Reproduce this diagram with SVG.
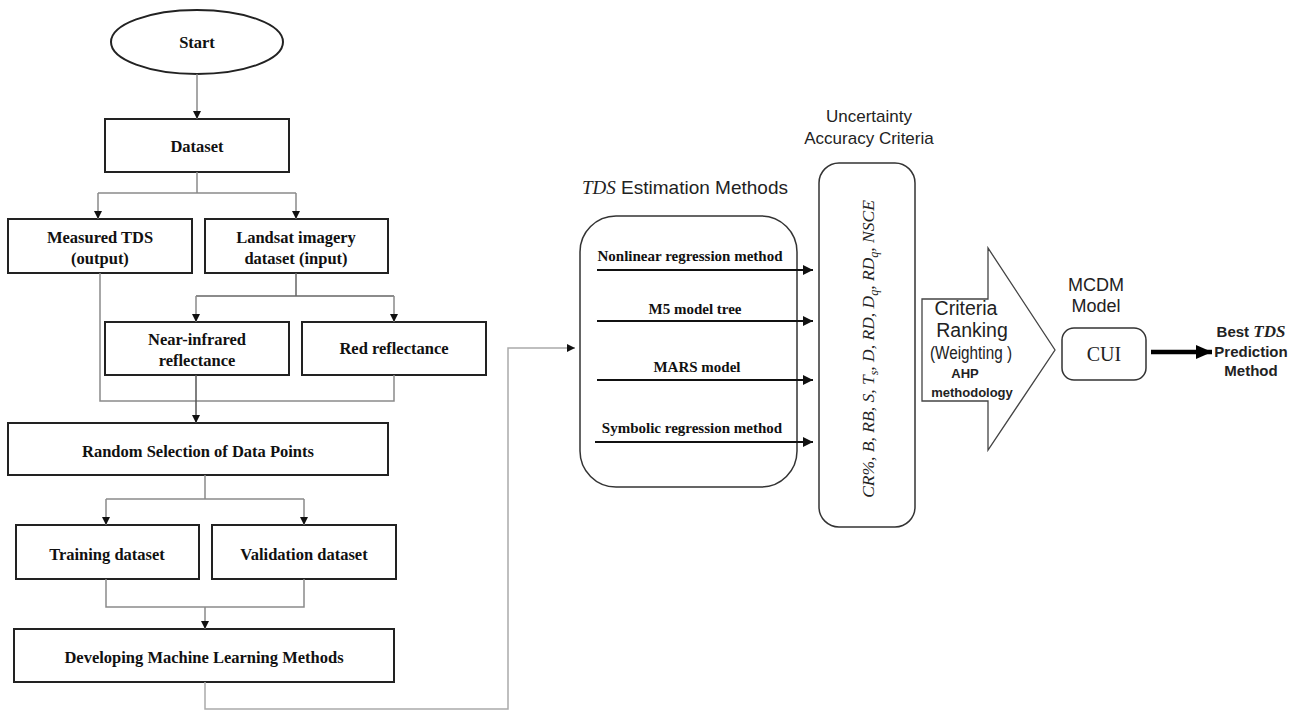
<svg xmlns="http://www.w3.org/2000/svg" width="1299" height="711" viewBox="0 0 1299 711">
<style>
.box{fill:#fff;stroke:#222;stroke-width:2}
.rbox{fill:#fff;stroke:#333;stroke-width:1.5}
.con{fill:none;stroke:#8a8a8a;stroke-width:1.5}
.tb{font-family:"Liberation Serif",serif;font-weight:bold;font-size:16.5px;fill:#111;text-anchor:middle}
.tm{font-family:"Liberation Serif",serif;font-weight:bold;font-size:15px;fill:#111;text-anchor:middle}
.ts{font-family:"Liberation Sans",sans-serif;font-size:18px;fill:#222;text-anchor:middle}
.it{font-family:"Liberation Serif",serif;font-style:italic}
.thick{stroke:#111;stroke-width:2.2;fill:none}
</style>
<defs>
<marker id="ah" viewBox="0 0 10 10" refX="10" refY="5" markerWidth="8" markerHeight="8" markerUnits="userSpaceOnUse" orient="auto">
<path d="M0,0 L10,5 L0,10 z" fill="#111"/>
</marker>
<marker id="ahb" viewBox="0 0 10 10" refX="10" refY="5" markerWidth="10" markerHeight="10" markerUnits="userSpaceOnUse" orient="auto">
<path d="M0,0 L10,5 L0,10 z" fill="#111"/>
</marker>
<marker id="ahc" viewBox="0 0 10 10" refX="10" refY="5" markerWidth="16" markerHeight="14" markerUnits="userSpaceOnUse" orient="auto" preserveAspectRatio="none">
<path d="M0,0 L10,5 L0,10 z" fill="#000"/>
</marker>
</defs>

<g id="start">
<ellipse cx="197" cy="42" rx="86" ry="32" class="box"/>
<text x="197" y="48" class="tb">Start</text>
</g>
<g id="dataset">
<rect x="105" y="119" width="184" height="53" class="box"/>
<text x="197" y="152" class="tb">Dataset</text>
</g>
<g id="measured">
<rect x="8" y="219" width="184" height="54" class="box"/>
<text x="100" y="243" class="tb">Measured TDS</text>
<text x="100" y="264" class="tb">(output)</text>
</g>
<g id="landsat">
<rect x="205" y="219" width="183" height="54" class="box"/>
<text x="296" y="243" class="tb">Landsat imagery</text>
<text x="296" y="264" class="tb">dataset (input)</text>
</g>
<g id="nir">
<rect x="105" y="322" width="184" height="53" class="box"/>
<text x="197" y="345" class="tb">Near-infrared</text>
<text x="197" y="366" class="tb">reflectance</text>
</g>
<g id="red">
<rect x="302" y="322" width="184" height="53" class="box"/>
<text x="394" y="354" class="tb">Red reflectance</text>
</g>
<g id="random">
<rect x="8" y="423" width="380" height="52" class="box"/>
<text x="198" y="457" class="tb">Random Selection of Data Points</text>
</g>
<g id="training">
<rect x="16" y="525" width="183" height="54" class="box"/>
<text x="107" y="560" class="tb">Training dataset</text>
</g>
<g id="validation">
<rect x="212" y="525" width="184" height="54" class="box"/>
<text x="304" y="560" class="tb">Validation dataset</text>
</g>
<g id="developing">
<rect x="14" y="629" width="380" height="53" class="box"/>
<text x="204" y="663" class="tb">Developing Machine Learning Methods</text>
</g>

<g id="estimation">
<text x="685" y="194" class="ts" style="font-size:19px"><tspan class="it">TDS</tspan> Estimation Methods</text>
<rect x="580" y="216" width="217" height="271" rx="36" class="rbox"/>
<text x="690" y="261" class="tm">Nonlinear regression method</text>
<text x="695" y="314" class="tm">M5 model tree</text>
<text x="697" y="372" class="tm">MARS model</text>
<text x="692" y="433" class="tm">Symbolic regression method</text>
</g>

<g id="uncertainty">
<text x="869" y="122" class="ts" style="font-size:17px">Uncertainty</text>
<text x="869" y="144" class="ts" style="font-size:17px">Accuracy Criteria</text>
<rect x="819" y="163" width="96" height="364" rx="20" class="rbox"/>
<text transform="translate(874,349) rotate(-90)" text-anchor="middle" class="it" style="font-size:17.5px" fill="#222">CR%, B, RB, S, T<tspan font-size="12" dy="4">s</tspan><tspan dy="-4">, D, RD, D</tspan><tspan font-size="12" dy="4">q</tspan><tspan dy="-4">, RD</tspan><tspan font-size="12" dy="4">q</tspan><tspan dy="-4">, NSCE</tspan></text>
</g>

<g id="ranking">
<path d="M922,299 H988 V248 L1055,350 L988,450 V401 H922 Z" fill="#fff" stroke="#444" stroke-width="1.3"/>
<text x="966" y="315" class="ts" style="font-size:19.5px">Criteria</text>
<text x="972" y="337" class="ts" style="font-size:19.5px">Ranking</text>
<text x="971" y="359" class="ts" style="font-size:18px" textLength="82" lengthAdjust="spacingAndGlyphs">(Weighting )</text>
<text x="965" y="378" class="ts" style="font-size:13px;font-weight:bold">AHP</text>
<text x="972" y="397" class="ts" style="font-size:13px;font-weight:bold">methodology</text>
</g>

<g id="mcdm">
<text x="1096" y="291" class="ts">MCDM</text>
<text x="1096" y="312" class="ts">Model</text>
<rect x="1062" y="328" width="84" height="52" rx="12" class="rbox"/>
<text x="1104" y="361" text-anchor="middle" font-family="Liberation Serif, serif" font-size="20" fill="#222">CUI</text>
</g>

<g id="best">
<text x="1251" y="337" class="ts" style="font-size:15px;font-weight:bold">Best <tspan class="it" style="font-size:17px">TDS</tspan></text>
<text x="1251" y="357" class="ts" style="font-size:15px;font-weight:bold">Prediction</text>
<text x="1251" y="376" class="ts" style="font-size:15px;font-weight:bold">Method</text>
</g>

<g id="connectors">
<path class="con" d="M197,74 V119" marker-end="url(#ah)"/>
<path class="con" d="M197,172 V193 M98,193 H296"/>
<path class="con" d="M98,193 V219" marker-end="url(#ah)"/>
<path class="con" d="M296,193 V219" marker-end="url(#ah)"/>
<path class="con" d="M100,273 V401 H394 V375"/>
<path class="con" d="M296,273 V296 M196,296 H394" style="stroke:#666"/>
<path class="con" d="M196,296 V322" marker-end="url(#ah)"/>
<path class="con" d="M394,296 V322" marker-end="url(#ah)"/>
<path class="con" d="M196,375 V423" style="stroke:#555" marker-end="url(#ah)"/>
<path class="con" d="M205,475 V499 M106,499 H304"/>
<path class="con" d="M106,499 V525" marker-end="url(#ah)"/>
<path class="con" d="M304,499 V525" marker-end="url(#ah)"/>
<path class="con" d="M106,579 V607 H304 V579"/>
<path class="con" d="M205,607 V629" marker-end="url(#ah)"/>
<path class="con" d="M205,682 V709 H508 V348 H575" style="stroke:#aaa" marker-end="url(#ah)"/>
<path class="thick" d="M597,270 H813" marker-end="url(#ahb)"/>
<path class="thick" d="M597,321 H813" marker-end="url(#ahb)"/>
<path class="thick" d="M597,380 H813" marker-end="url(#ahb)"/>
<path class="thick" d="M595,442 H813" marker-end="url(#ahb)"/>
<path d="M1151,352 H1212" stroke="#000" stroke-width="4.5" fill="none" marker-end="url(#ahc)"/>
</g>
</svg>
